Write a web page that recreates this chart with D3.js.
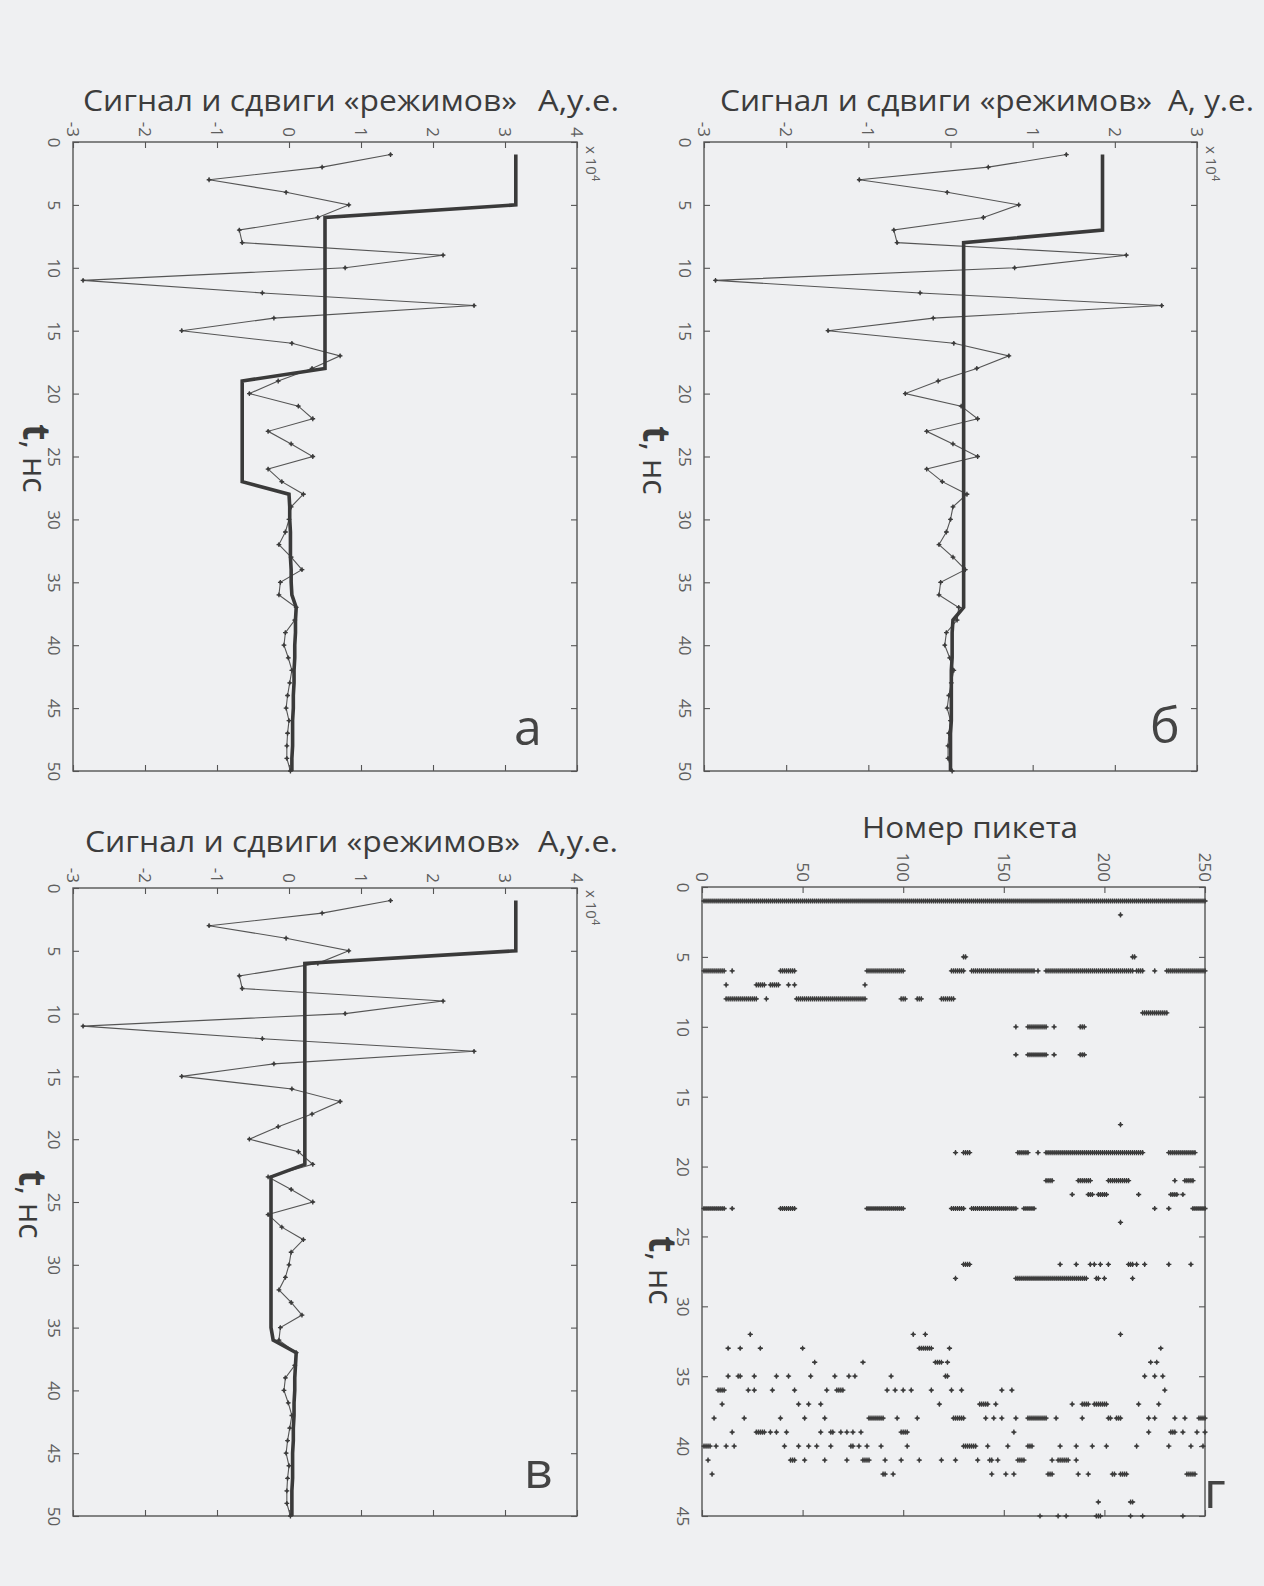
<!DOCTYPE html>
<html>
<head>
<meta charset="utf-8">
<script src="https://d3js.org/d3.v7.min.js"></script>
<style>
  body { margin: 0; background: #eff0f2; }
  svg text { font-family: "Open Sans", "Noto Sans", sans-serif; }
  .tick line { stroke: #555; stroke-width: 1.1; }
</style>
</head>
<body>
<div id="chart"></div>
<script>
  // ---- data ----
  var tNs = [1, 2, 3, 4, 5, 6, 7, 8, 9, 10, 11, 12, 13, 14, 15, 16, 17, 18, 19, 20,
    21, 22, 23, 24, 25, 26, 27, 28, 29, 30, 31, 32, 33, 34, 35, 36, 37, 38, 39, 40,
    41, 42, 43, 44, 45, 46, 47, 48, 49, 50];

  // signal, units of 1e4
  var signal = [1.41, 0.46, -1.11, -0.04, 0.83, 0.40, -0.69, -0.65, 2.14, 0.78,
    -2.86, -0.37, 2.57, -0.21, -1.49, 0.04, 0.71, 0.32, -0.15, -0.55,
    0.13, 0.33, -0.29, 0.03, 0.33, -0.29, -0.10, 0.20, 0.03, 0.00,
    -0.05, -0.14, 0.03, 0.18, -0.12, -0.14, 0.10, 0.08, -0.05, -0.07,
    -0.01, 0.04, 0.01, -0.02, -0.04, 0.00, -0.02, -0.03, -0.03, 0.02];

  // "regime" shifts for panels а, б, в
  var regimeA = [3.15, 3.15, 3.15, 3.15, 3.15,
    0.5, 0.5, 0.5, 0.5, 0.5, 0.5, 0.5, 0.5, 0.5, 0.5, 0.5, 0.5, 0.5,
    -0.65, -0.65, -0.65, -0.65, -0.65, -0.65, -0.65, -0.65, -0.65,
    0.0, 0.01, 0.01, 0.02, 0.02, 0.02, 0.03, 0.03, 0.04,
    0.1, 0.09, 0.09, 0.08, 0.08, 0.07, 0.07, 0.06, 0.06, 0.05, 0.05, 0.05, 0.04, 0.04];

  var regimeB = [1.85, 1.85, 1.85, 1.85, 1.85, 1.85, 1.85,
    0.16, 0.16, 0.16, 0.16, 0.16, 0.16, 0.16, 0.16, 0.16, 0.16,
    0.16, 0.16, 0.16, 0.16, 0.16, 0.16, 0.16, 0.16, 0.16, 0.16,
    0.16, 0.16, 0.16, 0.16, 0.16, 0.16, 0.16, 0.16, 0.16, 0.16,
    0.03, 0.02, 0.02, 0.02, 0.01, 0.01, 0.01, 0.01, 0.01, 0.0, 0.0, 0.0, 0.0];

  var regimeV = [3.15, 3.15, 3.15, 3.15, 3.15,
    0.22, 0.22, 0.22, 0.22, 0.22, 0.22, 0.22, 0.22, 0.22, 0.22, 0.22, 0.22, 0.22, 0.22, 0.22, 0.22, 0.22,
    -0.25, -0.25, -0.25, -0.25, -0.25, -0.25, -0.25, -0.25, -0.25, -0.25, -0.25, -0.25, -0.25, -0.22,
    0.1, 0.09, 0.08, 0.08, 0.07, 0.07, 0.06, 0.06, 0.05, 0.05, 0.05, 0.04, 0.04, 0.04];

  var ampTicks4 = [-3, -2, -1, 0, 1, 2, 3, 4];
  var ampTicks3 = [-3, -2, -1, 0, 1, 2, 3];
  var timeTicks50 = [0, 5, 10, 15, 20, 25, 30, 35, 40, 45, 50];
  var timeTicks45 = [0, 5, 10, 15, 20, 25, 30, 35, 40, 45];
  var picketTicks = [0, 50, 100, 150, 200, 250];

  // panel г: [t, pickets]; [a, b] means every picket from a to b
  var picketRows = [
    [1, [[1, 250]]],
    [2, [208]],
    [5, [[130, 131], [214, 215]]],
    [6, [[1, 11], 15, [39, 46], [82, 100], [124, 130], [134, 165], 167, [171, 214], [216, 219], 225, [231, 250]]],
    [7, [12, [27, 31], [34, 38], 43, 46, 81]],
    [8, [[12, 27], 32, [47, 81], [99, 101], [107, 109], [119, 125]]],
    [9, [[219, 231]]],
    [10, [156, [162, 171], 175, [188, 190]]],
    [12, [156, [162, 171], 175, [188, 190]]],
    [17, [208]],
    [19, [126, [130, 133], [157, 162], 167, [171, 219], [232, 245]]],
    [21, [[171, 174], [187, 193], [202, 212], 235, [240, 244]]],
    [22, [184, [192, 194], [197, 201], 217, [233, 236], 239]],
    [23, [[1, 11], 15, [39, 46], [82, 100], [124, 130], [134, 156], [160, 165], 225, 232, [244, 250]]],
    [24, [208]],
    [27, [[130, 133], 178, 186, 193, 195, 198, 202, [212, 214], 216, 220, 232, 243]],
    [28, [126, [156, 191], [196, 197], 200, 214]],
    [32, [24, 105, 111, 208]],
    [33, [13, 19, 29, 50, [108, 114], 123, 228]],
    [34, [56, 80, [116, 119], 122, 223, 226]],
    [35, [13, [18, 19], 26, 37, 43, 54, 66, 73, 76, 94, [121, 122], 220, 225, 229]],
    [36, [[8, 11], 23, 26, 35, 46, 62, [67, 70], 92, 96, 100, 104, 114, 124, 129, 149, 154, 230]],
    [37, [10, 48, 53, 59, 118, [138, 142], 146, 184, [189, 192], [195, 201], 217, 227]],
    [38, [6, 21, 39, 51, 61, [83, 90], 97, 107, [125, 130], 141, 145, 149, 156, [162, 171], 176, 189,
      [202, 203], [206, 208], 222, 225, 235, 240, [247, 250]]],
    [39, [15, [27, 31], 34, 37, 42, 59, [64, 65], 69, 72, 75, 79, [99, 102], 155, 222, [233, 235], 239, 246, 250]],
    [40, [[1, 4], 7, 12, 16, 41, 48, 53, 57, 64, [74, 75], 78, 82, 89, 102, [130, 136], 142, 152, [162, 164],
      178, 186, 194, 201, 216, 232, 243, 249]],
    [41, [3, [44, 46], 51, 61, 72, [80, 83], 91, 99, 108, 119, 126, 137, [143, 144], 147, [157, 160],
      174, [177, 182], 186]],
    [42, [5, [90, 91], 95, 144, 151, 155, [172, 174], 187, 192, [204, 205], [208, 211], [241, 245]]],
    [44, [197, [213, 214]]],
    [45, [168, 177, 181, [196, 198], 213, 219, 239]]
  ];

  // ---- drawing ----
  var width = 1264, height = 1586;
  var ink = "#3c3c3c";

  var svg = d3.select("#chart").append("svg")
    .attr("width", width)
    .attr("height", height);

  svg.append("rect").attr("width", width).attr("height", height).attr("fill", "#eff0f2");

  function plusMarker(sel, r) {
    sel.append("path")
      .attr("d", "M" + (-r) + ",0H" + r + "M0," + (-r) + "V" + r)
      .attr("stroke", ink).attr("stroke-width", 1.3);
    sel.append("circle").attr("r", r * 0.62).attr("fill", ink);
  }

  function styleTickText(sel) {
    sel.attr("font-family", "Liberation Sans, DejaVu Sans, sans-serif")
      .attr("font-size", 17)
      .attr("fill", "#5e5e5e");
  }

  function drawAxes(g, x, y, xTicks, yTicks) {
    var x0 = x.range()[0], x1 = x.range()[1];
    var y0 = y.range()[0], y1 = y.range()[1];
    var fmt = function (d) { return String(d); };

    var top = g.append("g").attr("transform", "translate(0," + y0 + ")")
      .call(d3.axisTop(x).tickValues(xTicks).tickSize(-6).tickFormat(fmt));
    top.selectAll("text")
      .attr("y", 0).attr("dy", null)
      .attr("transform", "translate(0,-5) rotate(90)")
      .attr("text-anchor", "end")
      .attr("dominant-baseline", "central")
      .call(styleTickText);

    g.append("g").attr("transform", "translate(0," + y1 + ")")
      .call(d3.axisBottom(x).tickValues(xTicks).tickSize(-6).tickFormat(""));

    var left = g.append("g").attr("transform", "translate(" + x0 + ",0)")
      .call(d3.axisLeft(y).tickValues(yTicks).tickSize(-6).tickFormat(fmt));
    left.selectAll("text")
      .attr("x", 0).attr("dy", null)
      .attr("transform", "translate(-19,0) rotate(90)")
      .attr("text-anchor", "middle")
      .attr("dominant-baseline", "central")
      .call(styleTickText);

    g.append("g").attr("transform", "translate(" + x1 + ",0)")
      .call(d3.axisRight(y).tickValues(yTicks).tickSize(-6).tickFormat(""));

    g.selectAll(".domain").remove();

    g.append("rect")
      .attr("x", x0).attr("y", y0)
      .attr("width", x1 - x0).attr("height", y1 - y0)
      .attr("fill", "none").attr("stroke", "#555").attr("stroke-width", 1.4);
  }

  function timeLabel(px, py) {
    var t = svg.append("text")
      .attr("transform", "translate(" + px + "," + py + ") rotate(90)")
      .attr("fill", ink);
    t.append("tspan").attr("font-size", 38).attr("font-weight", "bold").text("t");
    t.append("tspan").attr("font-size", 32).text(", нс");
  }

  function multiplier(px, py) {
    var t = svg.append("text")
      .attr("transform", "translate(" + px + "," + py + ") rotate(90)")
      .attr("font-family", "Liberation Sans, sans-serif")
      .attr("font-size", 15).attr("fill", "#5e5e5e");
    t.append("tspan").text("x 10");
    t.append("tspan").attr("dy", -6).attr("font-size", 11).text("4");
  }

  function title(parts) {
    parts.forEach(function (p) {
      svg.append("text")
        .attr("x", p.x).attr("y", p.y)
        .attr("font-size", 29).attr("fill", ink)
        .attr("textLength", p.w).attr("lengthAdjust", "spacingAndGlyphs")
        .text(p.text);
    });
  }

  function panelLetter(txt, px, py) {
    svg.append("text").attr("x", px).attr("y", py)
      .attr("font-size", 50).attr("fill", "#444").text(txt);
  }

  var signalPanels = [
    { box: [73, 577, 142, 771], amp: [-3, 4], ticks: ampTicks4, regime: regimeA },
    { box: [704, 1197, 142, 771], amp: [-3, 3], ticks: ampTicks3, regime: regimeB },
    { box: [73, 577, 888, 1516], amp: [-3, 4], ticks: ampTicks4, regime: regimeV }
  ];

  signalPanels.forEach(function (p) {
    var x = d3.scaleLinear().domain(p.amp).range([p.box[0], p.box[1]]);
    var y = d3.scaleLinear().domain([0, 50]).range([p.box[2], p.box[3]]);
    var g = svg.append("g");
    drawAxes(g, x, y, p.ticks, timeTicks50);

    var sigLine = d3.line().x(function (d, i) { return x(signal[i]); }).y(function (d) { return y(d); });
    g.append("path").datum(tNs)
      .attr("d", sigLine)
      .attr("fill", "none").attr("stroke", "#555").attr("stroke-width", 1.1);

    g.selectAll(".mk").data(tNs).enter().append("g")
      .attr("transform", function (d, i) { return "translate(" + x(signal[i]) + "," + y(d) + ")"; })
      .each(function () { plusMarker(d3.select(this), 2.4); });

    var regLine = d3.line().x(function (d, i) { return x(p.regime[i]); }).y(function (d) { return y(d); });
    g.append("path").datum(tNs)
      .attr("d", regLine)
      .attr("fill", "none").attr("stroke", "#3a3a3a").attr("stroke-width", 3.6)
      .attr("stroke-linejoin", "miter");
  });

  // panel г
  (function () {
    var x = d3.scaleLinear().domain([0, 250]).range([702, 1205]);
    var y = d3.scaleLinear().domain([0, 45]).range([887, 1516]);
    var g = svg.append("g");
    drawAxes(g, x, y, picketTicks, timeTicks45);

    var pts = [];
    picketRows.forEach(function (row) {
      row[1].forEach(function (item) {
        if (Array.isArray(item)) {
          for (var k = item[0]; k <= item[1]; k++) pts.push([k, row[0]]);
        } else {
          pts.push([item, row[0]]);
        }
      });
    });

    g.selectAll(".pk").data(pts).enter().append("g")
      .attr("transform", function (d) { return "translate(" + x(d[0]) + "," + y(d[1]) + ")"; })
      .each(function () { plusMarker(d3.select(this), 2.6); });
  })();

  // titles and labels
  title([
    { text: "Сигнал и сдвиги «режимов»", x: 83, y: 111, w: 434 },
    { text: "A,у.е.", x: 538, y: 111, w: 81 },
    { text: "Сигнал и сдвиги «режимов»", x: 720, y: 111, w: 432 },
    { text: "A, у.е.", x: 1168, y: 111, w: 86 },
    { text: "Сигнал и сдвиги «режимов»", x: 85, y: 852, w: 435 },
    { text: "A,у.е.", x: 538, y: 852, w: 80 },
    { text: "Номер пикета", x: 862, y: 838, w: 216 }
  ]);

  multiplier(586, 146);
  multiplier(1206, 146);
  multiplier(586, 890);

  timeLabel(23, 424);
  timeLabel(643, 426);
  timeLabel(19, 1170);
  timeLabel(649, 1236);

  panelLetter("а", 514, 745);
  panelLetter("б", 1150, 743);
  panelLetter("в", 524, 1488);
  panelLetter("г", 1204, 1508);
</script>
</body>
</html>
